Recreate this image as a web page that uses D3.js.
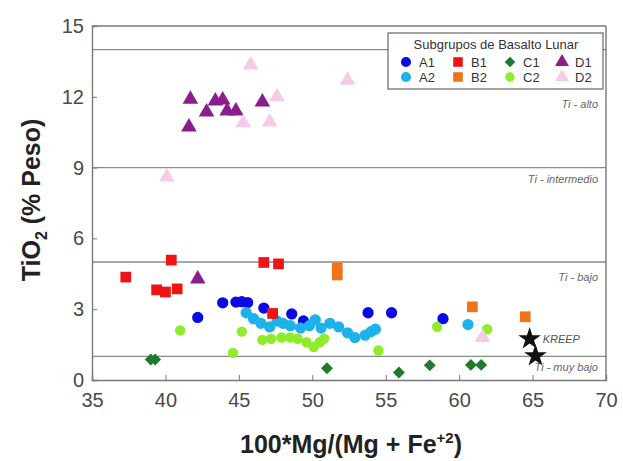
<!DOCTYPE html>
<html>
<head>
<meta charset="utf-8">
<title>TiO2 vs Mg#</title>
<script src="https://cdn.jsdelivr.net/npm/d3@7"></script>
<style>
  body { margin: 0; background: #fff; }
  text { font-family: "Liberation Sans", Arial, sans-serif; }
</style>
</head>
<body>
<div id="chart"></div>
<script>
// data: [Mg#, TiO2]
var A1 = [[42.2,2.65],[43.9,3.27],[44.8,3.3],[45.2,3.32],[45.6,3.28],[46.7,3.05],[48.6,2.8],[49.4,2.5],[53.8,2.85],[55.4,2.85],[58.9,2.6]];
var A2 = [[45.5,2.85],[46.0,2.6],[46.5,2.4],[47.1,2.25],[47.6,2.5],[48.0,2.4],[48.5,2.3],[49.2,2.2],[49.8,2.3],[50.2,2.55],[50.6,2.2],[51.2,2.4],[51.8,2.25],[52.4,2.0],[52.9,1.8],[53.6,1.9],[54.0,2.05],[54.3,2.15],[60.6,2.35]];
var B1 = [[37.3,4.36],[39.4,3.82],[40.0,3.73],[40.4,5.08],[40.8,3.86],[46.7,4.98],[47.3,2.82],[47.7,4.92]];
var B2 = [[51.7,4.75],[51.7,4.45],[60.9,3.1],[64.5,2.68]];
var C1 = [[39.0,0.87],[39.3,0.87],[51.0,0.5],[55.9,0.32],[58.0,0.62],[60.8,0.64],[61.5,0.64]];
var C2 = [[41.0,2.1],[44.6,1.15],[45.2,2.05],[46.6,1.7],[47.2,1.75],[47.9,1.8],[48.5,1.8],[49.0,1.75],[49.6,1.6],[50.1,1.4],[50.5,1.6],[50.8,1.75],[54.5,1.25],[58.5,2.25],[61.9,2.15]];
var D1 = [[41.6,10.72],[41.7,11.9],[42.8,11.36],[43.4,11.82],[43.9,11.86],[44.2,11.4],[44.8,11.4],[46.6,11.78],[42.2,4.28]];
var D2 = [[40.1,8.6],[45.3,10.9],[45.8,13.35],[47.1,10.93],[47.6,12.0],[52.4,12.7],[61.6,1.8]];
var KREEP = [[64.8,1.74],[65.2,1.02]];

var xTicks = [35, 40, 45, 50, 55, 60, 65, 70];
var yTicks = [0, 3, 6, 9, 12, 15];
var limits = [14, 9, 5, 1];
var zoneLabels = ["Ti - alto", "Ti - intermedio", "Ti - bajo", "Ti - muy bajo"];
var zoneY = [11.7, 8.5, 4.36, 0.55];

var series = [
  {name: "A1", data: A1, shape: d3.symbolCircle, size: 100, color: "#0a0ae6"},
  {name: "A2", data: A2, shape: d3.symbolCircle, size: 100, color: "#1fb2ea"},
  {name: "B1", data: B1, shape: d3.symbolSquare, size: 115, color: "#ee1414"},
  {name: "B2", data: B2, shape: d3.symbolSquare, size: 115, color: "#f07318"},
  {name: "C1", data: C1, shape: d3.symbolDiamond2, size: 90, color: "#1f7a2c"},
  {name: "C2", data: C2, shape: d3.symbolCircle, size: 85, color: "#8eec2a"},
  {name: "D1", data: D1, shape: d3.symbolTriangle, size: 105, color: "#8c1d8c"},
  {name: "D2", data: D2, shape: d3.symbolTriangle, size: 105, color: "#f5cbe8"}
];

var width = 623, height = 461;
var margin = {top: 26, right: 17, bottom: 81, left: 92};

var svg = d3.select("#chart").append("svg")
    .attr("width", width)
    .attr("height", height);

var x = d3.scaleLinear().domain([35, 70]).range([margin.left, width - margin.right]);
var y = d3.scaleLinear().domain([0, 15]).range([height - margin.bottom, margin.top]);

// zone lines
svg.selectAll(".limit").data(limits).enter().append("line")
    .attr("x1", x(35)).attr("x2", x(70))
    .attr("y1", d => y(d)).attr("y2", d => y(d))
    .attr("stroke", "#8a8a8a").attr("stroke-width", 1.4);

svg.selectAll(".zone").data(zoneLabels).enter().append("text")
    .attr("x", x(70) - 8)
    .attr("y", (d, i) => y(zoneY[i]) + 4)
    .attr("text-anchor", "end")
    .attr("font-size", 11)
    .attr("font-style", "italic")
    .attr("fill", "#666")
    .text(d => d);

// axes (ticks pointing inward)
var xAxis = svg.append("g")
    .attr("transform", "translate(0," + y(0) + ")")
    .call(d3.axisBottom(x).tickValues(xTicks).tickSize(-5).tickPadding(9));
var yAxis = svg.append("g")
    .attr("transform", "translate(" + x(35) + ",0)")
    .call(d3.axisLeft(y).tickValues(yTicks).tickSize(-5).tickPadding(8));

[xAxis, yAxis].forEach(function(g) {
  g.select(".domain").attr("stroke", "#777").attr("stroke-width", 1.4);
  g.selectAll(".tick line").attr("stroke", "#777");
  g.selectAll(".tick text")
    .attr("font-size", 20)
    .attr("fill", "#4a4a4a")
    .attr("font-family", "Liberation Sans, Arial, sans-serif");
});
xAxis.selectAll(".tick text").attr("dy", "0.9em");

// frame top/right
svg.append("line").attr("x1", x(35)).attr("x2", x(70)).attr("y1", y(15)).attr("y2", y(15))
    .attr("stroke", "#777").attr("stroke-width", 1.4);
svg.append("line").attr("x1", x(70)).attr("x2", x(70)).attr("y1", y(15)).attr("y2", y(0))
    .attr("stroke", "#777").attr("stroke-width", 1.4);

// points
series.forEach(function(s) {
  svg.append("g").selectAll("path").data(s.data).enter().append("path")
      .attr("transform", d => "translate(" + x(d[0]) + "," + y(d[1]) + ")")
      .attr("d", d3.symbol().type(s.shape).size(s.size))
      .attr("fill", s.color);
});

svg.append("g").selectAll("path").data(KREEP).enter().append("path")
    .attr("transform", d => "translate(" + x(d[0]) + "," + y(d[1]) + ")")
    .attr("d", d3.symbol().type(d3.symbolStar).size(160))
    .attr("fill", "#111");

svg.append("text")
    .attr("x", x(KREEP[0][0]) + 13)
    .attr("y", y(KREEP[0][1]) + 4)
    .attr("font-size", 11)
    .attr("font-style", "italic")
    .attr("fill", "#555")
    .text("KREEP");

// legend
var lg = svg.append("g").attr("transform", "translate(388,33)");
lg.append("rect")
    .attr("width", 215).attr("height", 56)
    .attr("fill", "#fff").attr("stroke", "#666").attr("stroke-width", 1.2);
lg.append("text")
    .attr("x", 108).attr("y", 16)
    .attr("text-anchor", "middle")
    .attr("font-size", 13)
    .attr("fill", "#333")
    .text("Subgrupos de Basalto Lunar");

var item = lg.selectAll(".item").data(series).enter().append("g")
    .attr("transform", (d, i) => "translate(" + (18 + Math.floor(i / 2) * 52) + "," + (29 + (i % 2) * 15) + ")");
item.append("path")
    .attr("d", d => d3.symbol().type(d.shape).size(d.size * 0.8)())
    .attr("fill", d => d.color);
item.append("text")
    .attr("x", 13).attr("y", 5)
    .attr("font-size", 13)
    .attr("fill", "#333")
    .text(d => d.name);

// axis titles
var xt = svg.append("text")
    .attr("x", (x(35) + x(70)) / 2 + 2)
    .attr("y", 453)
    .attr("text-anchor", "middle")
    .attr("font-size", 25)
    .attr("font-weight", "bold")
    .attr("fill", "#222");
xt.append("tspan").text("100*Mg/(Mg + Fe");
xt.append("tspan").attr("dy", -10).attr("font-size", 15).text("+2");
xt.append("tspan").attr("dy", 10).text(")");

var yt = svg.append("text")
    .attr("transform", "translate(40,200) rotate(-90)")
    .attr("text-anchor", "middle")
    .attr("font-size", 25)
    .attr("font-weight", "bold")
    .attr("fill", "#222");
yt.append("tspan").text("TiO");
yt.append("tspan").attr("dy", 7).attr("font-size", 16).text("2");
yt.append("tspan").attr("dy", -7).text(" (% Peso)");
</script>
</body>
</html>
